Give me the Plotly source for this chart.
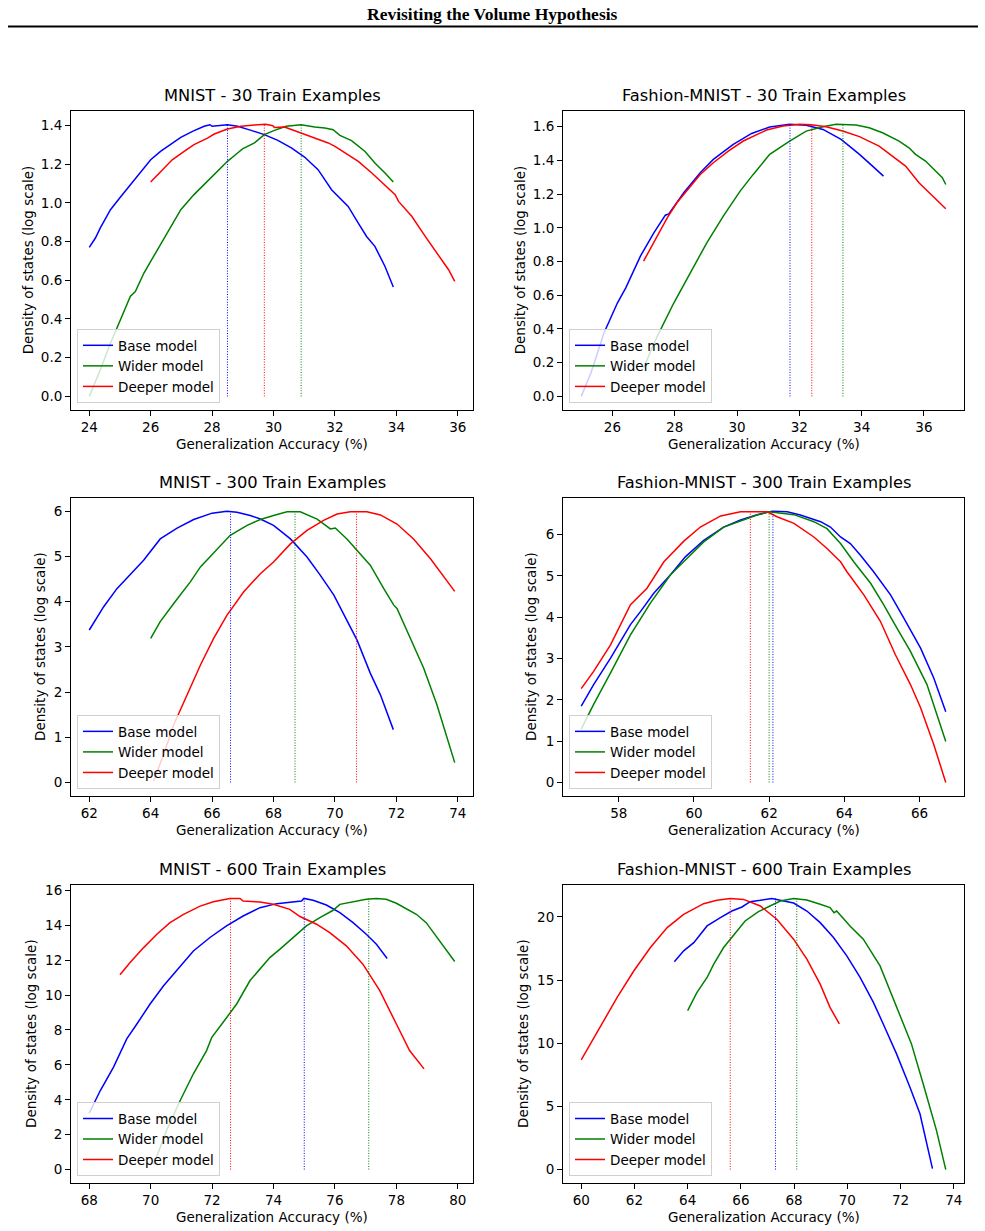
import plotly.graph_objects as go

# ---------------- data ----------------
# Panel 1: MNIST - 30 Train Examples
p1_base_x = [24.0, 24.2, 24.36, 24.69, 25.01, 25.34, 25.72, 26.0, 26.32, 26.65, 26.98, 27.36, 27.74, 27.93, 28.0, 28.5, 28.83, 29.27, 29.7, 30.14, 30.58, 31.01, 31.45, 31.89, 32.43, 32.76, 33.03, 33.3, 33.63, 33.9]
p1_base_y = [0.77, 0.818, 0.87, 0.964, 1.028, 1.093, 1.162, 1.222, 1.265, 1.303, 1.338, 1.369, 1.395, 1.403, 1.395, 1.403, 1.395, 1.374, 1.352, 1.322, 1.283, 1.236, 1.171, 1.067, 0.981, 0.895, 0.826, 0.775, 0.671, 0.565]
p1_wide_x = [24.0, 24.36, 24.69, 25.01, 25.34, 25.5, 25.78, 26.0, 26.32, 26.65, 26.98, 27.41, 27.63, 28.07, 28.5, 28.83, 28.99, 29.38, 29.7, 30.03, 30.41, 30.9, 31.34, 31.67, 31.94, 32.16, 32.54, 32.98, 33.3, 33.63, 33.9]
p1_wide_y = [0.0, 0.138, 0.275, 0.396, 0.517, 0.542, 0.637, 0.697, 0.783, 0.878, 0.964, 1.042, 1.076, 1.145, 1.214, 1.257, 1.278, 1.309, 1.352, 1.374, 1.395, 1.403, 1.391, 1.386, 1.377, 1.348, 1.321, 1.265, 1.205, 1.154, 1.107]
p1_deep_x = [26.0, 26.32, 26.7, 27.09, 27.41, 27.85, 28.07, 28.5, 28.94, 29.38, 29.74, 29.98, 30.03, 30.36, 30.9, 31.34, 31.78, 32.0, 32.32, 32.76, 33.2, 33.63, 33.96, 34.07, 34.5, 34.94, 35.38, 35.7, 35.9]
p1_deep_y = [1.107, 1.162, 1.222, 1.265, 1.3, 1.334, 1.355, 1.381, 1.395, 1.402, 1.405, 1.398, 1.389, 1.391, 1.36, 1.334, 1.309, 1.291, 1.257, 1.214, 1.154, 1.093, 1.042, 1.007, 0.93, 0.826, 0.723, 0.654, 0.594]
p1_peaks = [28.5, 30.9, 29.7]

# Panel 2: Fashion-MNIST - 30 Train Examples
p2_base_x = [25.0, 25.31, 25.73, 26.16, 26.43, 26.9, 27.33, 27.7, 27.81, 28.29, 28.82, 29.24, 29.88, 30.47, 31.05, 31.69, 32.22, 32.76, 33.34, 33.93, 34.35, 34.7]
p2_base_y = [0.0, 0.139, 0.376, 0.554, 0.644, 0.832, 0.97, 1.075, 1.083, 1.208, 1.327, 1.406, 1.495, 1.56, 1.598, 1.614, 1.608, 1.584, 1.525, 1.436, 1.366, 1.307]
p2_wide_x = [27.0, 27.44, 27.97, 28.5, 29.03, 29.56, 30.1, 30.52, 31.05, 31.69, 32.22, 32.76, 33.18, 33.82, 34.24, 34.67, 35.2, 35.52, 35.73, 36.05, 36.37, 36.59, 36.7]
p2_wide_y = [0.17, 0.356, 0.554, 0.733, 0.911, 1.069, 1.218, 1.317, 1.436, 1.515, 1.574, 1.6, 1.614, 1.61, 1.594, 1.564, 1.515, 1.475, 1.436, 1.396, 1.337, 1.297, 1.257]
p2_deep_x = [27.0, 27.33, 27.76, 28.07, 28.39, 28.82, 29.24, 29.72, 30.2, 30.63, 30.95, 31.48, 32.01, 32.38, 32.86, 33.39, 33.93, 34.56, 34.99, 35.41, 35.84, 36.27, 36.7]
p2_deep_y = [0.802, 0.911, 1.059, 1.149, 1.218, 1.317, 1.386, 1.455, 1.515, 1.554, 1.58, 1.604, 1.614, 1.612, 1.6, 1.574, 1.541, 1.485, 1.426, 1.366, 1.267, 1.188, 1.113]
p2_peaks = [31.7, 33.4, 32.4]

# Panel 3: MNIST - 300 Train Examples
p3_base_x = [62.0, 62.47, 62.9, 63.34, 63.77, 64.31, 64.86, 65.4, 66.0, 66.48, 66.81, 67.24, 67.57, 68.0, 68.55, 69.09, 69.52, 69.96, 70.39, 70.72, 71.15, 71.48, 71.9]
p3_base_y = [3.375, 3.89, 4.29, 4.62, 4.92, 5.39, 5.63, 5.82, 5.96, 6.0, 5.98, 5.91, 5.83, 5.69, 5.39, 4.99, 4.59, 4.15, 3.6, 3.15, 2.42, 1.94, 1.17]
p3_wide_x = [64.0, 64.31, 64.75, 65.29, 65.62, 66.16, 66.59, 67.14, 67.57, 68.0, 68.44, 68.87, 69.42, 69.85, 70.01, 70.39, 70.72, 71.15, 71.59, 71.91, 72.02, 72.46, 72.89, 73.32, 73.65, 73.9]
p3_wide_y = [3.19, 3.56, 3.96, 4.44, 4.77, 5.17, 5.47, 5.69, 5.82, 5.91, 5.99, 5.99, 5.83, 5.61, 5.63, 5.39, 5.14, 4.81, 4.29, 3.93, 3.85, 3.19, 2.53, 1.72, 0.99, 0.44]
p3_deep_x = [64.1, 64.42, 64.75, 65.18, 65.62, 66.05, 66.48, 67.03, 67.57, 68.0, 68.55, 69.09, 69.63, 70.07, 70.5, 71.04, 71.48, 72.02, 72.56, 73.11, 73.54, 73.9]
p3_deep_y = [0.04, 0.62, 1.28, 1.94, 2.6, 3.19, 3.7, 4.22, 4.62, 4.88, 5.28, 5.58, 5.8, 5.94, 5.99, 5.99, 5.92, 5.72, 5.39, 4.95, 4.55, 4.23]
p3_peaks = [66.6, 68.7, 70.7]

# Panel 4: Fashion-MNIST - 300 Train Examples
p4_base_x = [57.0, 57.33, 57.78, 58.31, 58.58, 58.93, 59.37, 59.77, 60.26, 60.79, 61.24, 61.68, 62.08, 62.48, 62.83, 63.37, 63.63, 63.9, 64.16, 64.43, 64.78, 65.23, 65.58, 66.03, 66.38, 66.7]
p4_base_y = [1.85, 2.37, 3.01, 3.82, 4.14, 4.58, 5.02, 5.46, 5.86, 6.18, 6.35, 6.48, 6.56, 6.55, 6.47, 6.31, 6.18, 5.94, 5.78, 5.5, 5.1, 4.54, 3.98, 3.25, 2.53, 1.71]
p4_wide_x = [57.0, 57.33, 57.78, 58.31, 58.84, 59.37, 59.86, 60.26, 60.79, 61.28, 61.68, 62.0, 62.3, 62.66, 63.19, 63.54, 63.9, 64.25, 64.7, 65.05, 65.32, 65.76, 66.2, 66.7]
p4_wide_y = [1.29, 1.89, 2.65, 3.57, 4.34, 5.02, 5.46, 5.82, 6.18, 6.35, 6.47, 6.55, 6.52, 6.48, 6.31, 6.14, 5.78, 5.34, 4.82, 4.3, 3.86, 3.17, 2.37, 0.99]
p4_deep_x = [57.0, 57.33, 57.78, 58.31, 58.75, 59.2, 59.73, 60.17, 60.71, 61.06, 61.24, 61.95, 62.21, 62.66, 63.19, 63.54, 63.9, 64.07, 64.52, 64.96, 65.36, 65.76, 66.03, 66.38, 66.7]
p4_deep_y = [2.27, 2.69, 3.33, 4.3, 4.7, 5.34, 5.84, 6.18, 6.45, 6.51, 6.55, 6.55, 6.43, 6.27, 5.94, 5.66, 5.34, 5.1, 4.54, 3.9, 3.09, 2.37, 1.81, 0.92, 0.0]
p4_peaks = [62.1, 62.0, 61.5]

# Panel 5: MNIST - 600 Train Examples
p5_base_x = [68.0, 68.36, 68.79, 69.22, 69.55, 69.98, 70.42, 70.85, 71.39, 71.93, 72.47, 73.01, 73.56, 74.1, 74.64, 74.91, 74.99, 75.29, 75.72, 76.16, 76.59, 77.02, 77.35, 77.7]
p5_base_y = [3.24, 4.53, 5.87, 7.49, 8.34, 9.49, 10.53, 11.39, 12.53, 13.3, 13.96, 14.53, 15.01, 15.24, 15.35, 15.39, 15.54, 15.43, 15.16, 14.72, 14.15, 13.49, 12.91, 12.1]
p5_wide_x = [70.1, 70.52, 70.96, 71.39, 71.82, 71.99, 72.36, 72.8, 73.23, 73.56, 73.88, 74.21, 74.64, 75.07, 75.51, 75.94, 76.16, 76.59, 77.02, 77.35, 77.67, 78.0, 78.32, 78.65, 78.97, 79.4, 79.9]
p5_wide_y = [0.3, 2.25, 3.96, 5.49, 6.82, 7.58, 8.44, 9.49, 10.82, 11.49, 12.15, 12.63, 13.3, 13.96, 14.44, 14.86, 15.2, 15.35, 15.49, 15.54, 15.49, 15.26, 14.97, 14.63, 14.15, 13.1, 11.92]
p5_deep_x = [69.0, 69.33, 69.77, 70.2, 70.63, 71.07, 71.61, 72.04, 72.58, 72.91, 73.01, 73.56, 73.99, 74.53, 74.86, 75.4, 75.83, 76.37, 76.91, 77.46, 78.0, 78.43, 78.9]
p5_deep_y = [11.16, 11.87, 12.72, 13.49, 14.15, 14.63, 15.1, 15.35, 15.54, 15.54, 15.39, 15.33, 15.2, 14.91, 14.5, 14.06, 13.58, 12.82, 11.77, 10.25, 8.34, 6.82, 5.77]
p5_peaks = [75.0, 77.1, 72.6]

# Panel 6: Fashion-MNIST - 600 Train Examples
p6_base_x = [63.5, 63.85, 64.23, 64.73, 65.23, 65.66, 66.04, 66.35, 66.73, 67.16, 67.48, 67.98, 68.48, 68.98, 69.48, 69.98, 70.48, 70.98, 71.35, 71.85, 72.35, 72.73, 73.2]
p6_base_y = [16.45, 17.32, 17.97, 19.29, 19.95, 20.47, 20.79, 21.21, 21.32, 21.47, 21.32, 21.1, 20.47, 19.55, 18.37, 16.92, 15.21, 13.24, 11.53, 9.16, 6.53, 4.42, 0.08]
p6_wide_x = [64.0, 64.35, 64.73, 64.98, 65.35, 65.79, 66.16, 66.66, 66.98, 67.48, 67.98, 68.48, 68.98, 69.35, 69.5, 69.6, 70.1, 70.6, 71.23, 71.85, 72.41, 72.85, 73.35, 73.7]
p6_wide_y = [12.58, 14.03, 15.21, 16.26, 17.58, 18.76, 19.68, 20.42, 20.74, 21.26, 21.47, 21.34, 21.0, 20.74, 20.34, 20.47, 19.29, 18.24, 16.13, 12.84, 9.95, 6.79, 3.1, 0.0]
p6_deep_x = [60.0, 60.48, 60.98, 61.35, 61.98, 62.6, 63.23, 63.85, 64.6, 65.1, 65.6, 66.1, 66.73, 67.35, 67.98, 68.48, 68.98, 69.35, 69.7]
p6_deep_y = [8.68, 10.47, 12.32, 13.63, 15.74, 17.58, 19.16, 20.21, 21.05, 21.32, 21.47, 21.39, 20.87, 19.82, 18.24, 16.66, 14.68, 12.84, 11.53]
p6_peaks = [67.3, 68.1, 65.6]

titles = ["MNIST - 30 Train Examples", "Fashion-MNIST - 30 Train Examples",
          "MNIST - 300 Train Examples", "Fashion-MNIST - 300 Train Examples",
          "MNIST - 600 Train Examples", "Fashion-MNIST - 600 Train Examples"]
series_names = ["Base model", "Wider model", "Deeper model"]
x_ticks = [[24, 26, 28, 30, 32, 34, 36], [26, 28, 30, 32, 34, 36],
           [62, 64, 66, 68, 70, 72, 74], [58, 60, 62, 64, 66],
           [68, 70, 72, 74, 76, 78, 80], [60, 62, 64, 66, 68, 70, 72, 74]]
y_ticks = [[0, 0.2, 0.4, 0.6, 0.8, 1.0, 1.2, 1.4], [0, 0.2, 0.4, 0.6, 0.8, 1.0, 1.2, 1.4, 1.6],
           [0, 1, 2, 3, 4, 5, 6], [0, 1, 2, 3, 4, 5, 6],
           [0, 2, 4, 6, 8, 10, 12, 14, 16], [0, 5, 10, 15, 20]]
main_title = "Revisiting the Volume Hypothesis"
x_label = "Generalization Accuracy (%)"
y_label = "Density of states (log scale)"

panels = [
    [(p1_base_x, p1_base_y), (p1_wide_x, p1_wide_y), (p1_deep_x, p1_deep_y), p1_peaks],
    [(p2_base_x, p2_base_y), (p2_wide_x, p2_wide_y), (p2_deep_x, p2_deep_y), p2_peaks],
    [(p3_base_x, p3_base_y), (p3_wide_x, p3_wide_y), (p3_deep_x, p3_deep_y), p3_peaks],
    [(p4_base_x, p4_base_y), (p4_wide_x, p4_wide_y), (p4_deep_x, p4_deep_y), p4_peaks],
    [(p5_base_x, p5_base_y), (p5_wide_x, p5_wide_y), (p5_deep_x, p5_deep_y), p5_peaks],
    [(p6_base_x, p6_base_y), (p6_wide_x, p6_wide_y), (p6_deep_x, p6_deep_y), p6_peaks],
]

# ---------------- layout geometry (pixels) ----------------
W, H = 985, 1231
colors = ["#0000ff", "#008000", "#ff0000"]
col_px = [(71, 473), (563, 964)]
row_px = [(108, 408), (496, 795), (884, 1183)]
ytitle_px = [28, 520, 40, 531, 31, 523]
FONT = "DejaVu Sans"
TS = 13.5

def px_x(v):
    return v / W

def px_y(v):
    return 1 - v / H

fig = go.Figure()
annotations = []
shapes = []
layout_axes = {}

for i, panel in enumerate(panels):
    r, c = divmod(i, 2)
    n = i + 1
    xa = "x" if n == 1 else f"x{n}"
    ya = "y" if n == 1 else f"y{n}"
    leg = "legend" if n == 1 else f"legend{n}"
    series = panel[:3]
    peaks = panel[3]
    allx = [v for s in series for v in s[0]]
    ally = [v for s in series for v in s[1]] + [0]
    for k, (sx, sy) in enumerate(series):
        fig.add_trace(go.Scatter(x=sx, y=sy, mode="lines", name=series_names[k],
                                 line=dict(color=colors[k], width=1.5),
                                 xaxis=xa, yaxis=ya, legend=leg, showlegend=True))
    for k, (sx, sy) in enumerate(series):
        fig.add_trace(go.Scatter(x=[peaks[k], peaks[k]], y=[0, max(sy)], mode="lines",
                                 line=dict(color=colors[k], width=1, dash="1px,1.6px"),
                                 xaxis=xa, yaxis=ya, showlegend=False, hoverinfo="skip"))
    xmin, xmax = min(allx), max(allx)
    ymin, ymax = min(ally), max(ally)
    xp = (xmax - xmin) * 0.05
    yp = (ymax - ymin) * 0.05
    x0, x1 = col_px[c]
    y0, y1 = row_px[r]
    axcommon = dict(showgrid=False, zeroline=False, showline=True, mirror=True,
                    linecolor="black", linewidth=1, ticks="outside", ticklen=5,
                    tickwidth=1, tickcolor="black",
                    tickfont=dict(family=FONT, size=TS, color="black"))
    layout_axes["xaxis" if n == 1 else f"xaxis{n}"] = dict(
        axcommon, domain=[px_x(x0), px_x(x1)], range=[xmin - xp, xmax + xp],
        tickvals=x_ticks[i], anchor=ya)
    ytf = ".1f" if i < 2 else "d"
    layout_axes["yaxis" if n == 1 else f"yaxis{n}"] = dict(
        axcommon, domain=[px_y(y1), px_y(y0)], range=[ymin - yp, ymax + yp],
        tickvals=y_ticks[i], tickformat=ytf, anchor=xa)
    # legend
    layout_axes[leg] = dict(x=px_x(x0 + 6), y=px_y(y1 - 7), xanchor="left", yanchor="bottom",
                            bgcolor="rgba(255,255,255,0.8)", bordercolor="#d0d0d0",
                            borderwidth=1, font=dict(family=FONT, size=TS, color="black"),
                            tracegroupgap=0, itemwidth=30)
    # subplot title
    annotations.append(dict(text=titles[i], x=px_x((x0 + x1) / 2), y=px_y(y0 - 15),
                            xref="paper", yref="paper", showarrow=False,
                            xanchor="center", yanchor="middle",
                            font=dict(family=FONT, size=16.3, color="black")))
    # x label
    annotations.append(dict(text=x_label, x=px_x((x0 + x1) / 2), y=px_y(y1 + 34),
                            xref="paper", yref="paper", showarrow=False,
                            xanchor="center", yanchor="middle",
                            font=dict(family=FONT, size=TS, color="black")))
    # y label
    annotations.append(dict(text=y_label, x=px_x(ytitle_px[i]), y=px_y((y0 + y1) / 2),
                            xref="paper", yref="paper", showarrow=False, textangle=-90,
                            xanchor="center", yanchor="middle",
                            font=dict(family=FONT, size=TS, color="black")))

annotations.append(dict(text="<b>" + main_title + "</b>", x=0.5, y=px_y(11),
                        xref="paper", yref="paper", showarrow=False,
                        xanchor="center", yanchor="middle",
                        font=dict(family="Liberation Serif", size=17.5, color="black")))
shapes.append(dict(type="line", xref="paper", yref="paper", x0=px_x(8), x1=px_x(978),
                   y0=px_y(23.5), y1=px_y(23.5), line=dict(color="black", width=2)))

fig.update_layout(width=W, height=H, margin=dict(l=0, r=0, t=0, b=0),
                  paper_bgcolor="white", plot_bgcolor="white",
                  annotations=annotations, shapes=shapes, **layout_axes)

fig.write_html("out.html")
